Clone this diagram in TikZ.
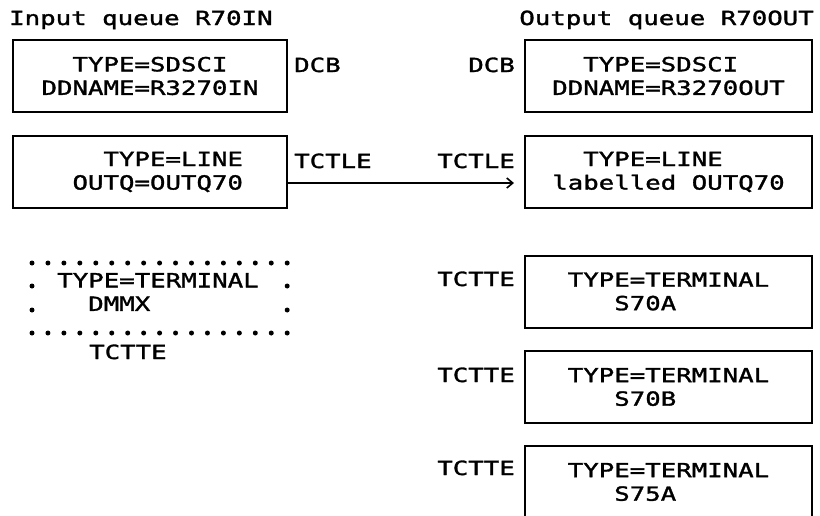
\documentclass[tikz,border=0pt]{standalone}
\usepackage{fontspec}
\setmonofont{DejaVu Sans Mono}[FakeStretch=1.32, FakeBold=1.6]
\usetikzlibrary{arrows.meta}

\newcommand{\blankcell}{\hphantom{0}}

\begin{document}
\begin{tikzpicture}[x=1pt,y=-1pt,
    every node/.style={font=\ttfamily\fontsize{19.5}{23.5}\selectfont, inner sep=0pt},
    qbox/.style={draw, line width=2pt, align=left, minimum height=72pt},
    inbox/.style={qbox, minimum width=274pt},
    outbox/.style={qbox, minimum width=287pt}]
        % \draw[help lines, gray!50, very thin] (0,0) grid[step=50] (820,515);
        \useasboundingbox (0,0) rectangle (820,515);
        \clip (0,0) rectangle (820,515);

        % input side
        \node[anchor=base west] (intitle) at (9,25) {Input queue R70IN};

        \node[inbox] (sdin) at (150,76) {\blankcell\blankcell TYPE=SDSCI\\DDNAME=R3270IN};
        \node[anchor=base west] (dcbin) at (294,72) {DCB};

        \node[inbox] (linein) at (150,172) {\blankcell\blankcell\blankcell TYPE=LINE\\\blankcell OUTQ=OUTQ70};
        \node[anchor=base west] (tctlein) at (294,168) {TCTLE};

        % dotted terminal entry
        \foreach \i in {0,...,16} {
          \fill (32+\i*15.95,263) circle (2.5pt);
          \fill (32+\i*15.95,333) circle (2.5pt);
        }
        \foreach \y in {286,310} {
          \fill (32,\y) circle (2.5pt);
          \fill (287.2,\y) circle (2.5pt);
        }
        \node[align=left] (dmmx) at (158,292) {TYPE=TERMINAL\\\blankcell\blankcell DMMX};
        \node[anchor=base west] (tcttein) at (89,359) {TCTTE};

        % output side
        \node[anchor=base east] (outtitle) at (814,25) {Output queue R70OUT};

        \node[outbox] (sdout) at (668.5,76) {\blankcell\blankcell TYPE=SDSCI\\DDNAME=R3270OUT};
        \node[anchor=base east] (dcbout) at (515,72) {DCB};

        \node[outbox] (lineout) at (668.5,172) {\blankcell\blankcell TYPE=LINE\\labelled OUTQ70};
        \node[anchor=base east] (tctleout) at (515,168) {TCTLE};

        \node[outbox] (s70a) at (668.5,291.5) {TYPE=TERMINAL\\\blankcell\blankcell\blankcell S70A};
        \node[anchor=base east] (tctte1) at (515,286) {TCTTE};

        \node[outbox] (s70b) at (668.5,387) {TYPE=TERMINAL\\\blankcell\blankcell\blankcell S70B};
        \node[anchor=base east] (tctte2) at (515,382) {TCTTE};

        \node[outbox] (s75a) at (668.5,482) {TYPE=TERMINAL\\\blankcell\blankcell\blankcell S75A};
        \node[anchor=base east] (tctte3) at (515,475) {TCTTE};

        \draw[line width=1.6pt, -{Straight Barb[length=6pt,width=10pt,line width=1.6pt]}, shorten >=10pt]
          ([yshift=-11pt]linein.east) -- ([yshift=-11pt]lineout.west);
      \end{tikzpicture}
\end{document}
